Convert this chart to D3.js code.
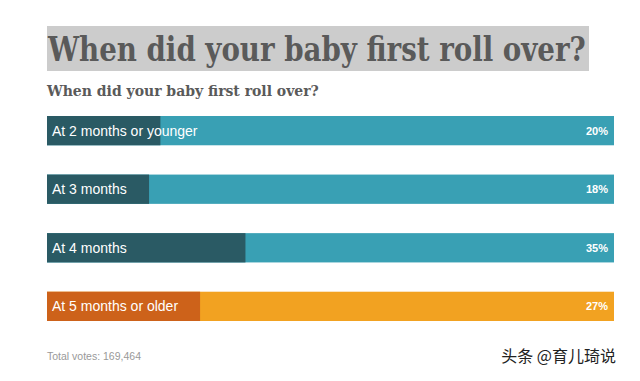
<!DOCTYPE html>
<html>
  <head>
    <meta charset="utf-8">
    <script src="https://d3js.org/d3.v7.min.js"></script>
    <style>
      body { margin: 0; background: #fff; }
      svg text { font-family: "Liberation Sans", Arial, sans-serif; }
      .title, .subtitle { font-family: "DejaVu Serif Condensed", "DejaVu Serif", serif !important; font-weight: bold; fill: #5a5a5a; }
    </style>
  </head>
<body>
  <script type="text/javascript">
    // poll answers, share of votes (%)
    var answers = ["At 2 months or younger", "At 3 months", "At 4 months", "At 5 months or older"];
    var shares = [20, 18, 35, 27];
    var highlighted = [false, false, false, true]; // last bar drawn in orange
    var totalVotes = "Total votes: 169,464";
    var titleText = "When did your baby first roll over?";

    var width = 640, height = 381;

    var svg = d3.select("body")
      .append("svg")
        .attr("width", width)
        .attr("height", height);

    // squeeze a text horizontally so it fits a given width
    function fitWidth(sel, x0, y0, w) {
      var len = sel.node().getComputedTextLength();
      sel.attr("transform", "translate(" + x0 + "," + y0 + ") scale(" + (w / len) + ",1)");
    }

    //
    // title with grey highlight
    //
    svg.append("rect")
      .attr("x", 47).attr("y", 26)
      .attr("width", 542).attr("height", 45)
      .attr("fill", "#cccccc");
    var title = svg.append("text")
      .attr("class", "title")
      .attr("font-size", 34)
      .text(titleText);
    fitWidth(title, 48, 61, 538);

    var subtitle = svg.append("text")
      .attr("class", "subtitle")
      .attr("font-size", 15)
      .text(titleText);
    fitWidth(subtitle, 47, 96, 272);

    //
    // scales
    //
    var x = d3.scaleLinear().domain([0, 100]).range([47, 614]);
    var y = d3.scaleBand()
      .domain(answers)
      .range([116, 321])
      .paddingInner(0.5)
      .paddingOuter(0);

    var bars = svg.append("g").attr("class", "bars")
      .selectAll("g")
      .data(answers)
      .enter()
      .append("g");

    // full width background
    bars.append("rect")
      .attr("x", x(0))
      .attr("y", function(d) { return y(d); })
      .attr("width", x(100) - x(0))
      .attr("height", y.bandwidth())
      .attr("fill", function(d, i) { return highlighted[i] ? "#f2a221" : "#39a0b4"; });

    // share part
    bars.append("rect")
      .attr("x", x(0))
      .attr("y", function(d) { return y(d); })
      .attr("width", function(d, i) { return x(shares[i]) - x(0); })
      .attr("height", y.bandwidth())
      .attr("fill", function(d, i) { return highlighted[i] ? "#cd621a" : "#2a5a64"; });

    bars.append("text")
      .attr("x", x(0) + 5)
      .attr("y", function(d) { return y(d) + y.bandwidth() / 2 + 5; })
      .attr("font-size", 14)
      .attr("fill", "#fff")
      .text(function(d) { return d; });

    bars.append("text")
      .attr("x", x(100) - 6)
      .attr("y", function(d) { return y(d) + y.bandwidth() / 2 + 4; })
      .attr("text-anchor", "end")
      .attr("font-size", 11)
      .attr("font-weight", "bold")
      .attr("fill", "#fff")
      .text(function(d, i) { return shares[i] + "%"; });

    //
    // footer
    //
    svg.append("text")
      .attr("x", 47).attr("y", 360)
      .attr("font-size", 10.5)
      .attr("fill", "#999")
      .text(totalVotes);

    svg.append("text")
      .attr("x", 616).attr("y", 362)
      .attr("text-anchor", "end")
      .attr("font-size", 16)
      .attr("fill", "#222")
      .style("font-family", "'Noto Sans CJK SC', sans-serif")
      .text("头条 @育儿琦说");
  </script>
</body>
</html>
